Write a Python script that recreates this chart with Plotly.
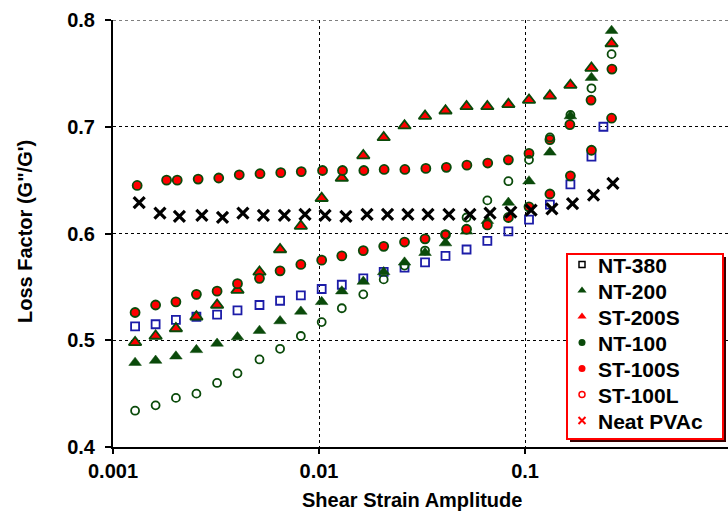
import plotly.graph_objects as go

# ---------------- data ----------------
series_names = ["NT-380", "NT-200", "ST-200S", "NT-100", "ST-100S", "ST-100L", "Neat PVAc"]

strain_common = [0.00128, 0.00161, 0.00202, 0.00254, 0.0032, 0.00402, 0.00514, 0.00647,
                 0.00816, 0.0103, 0.0129, 0.0164, 0.0206, 0.0260, 0.0327, 0.0411,
                 0.0520, 0.0656, 0.0830, 0.1045, 0.132, 0.166, 0.210, 0.263]
strain_nt380 = [0.00128, 0.00161, 0.00202, 0.00254, 0.0032, 0.00402, 0.00514, 0.00647,
                0.00816, 0.0103, 0.0129, 0.0164, 0.0206, 0.0260, 0.0327, 0.0411,
                0.0520, 0.0656, 0.0830, 0.1045, 0.132, 0.166, 0.210, 0.240]
strain_nt100 = [0.00131, 0.00182, 0.00205, 0.00259, 0.00326, 0.0041, 0.00517, 0.00652,
                0.0082, 0.0104, 0.0130, 0.0165, 0.0207, 0.0261, 0.0330, 0.0415,
                0.0522, 0.0659, 0.0830, 0.1045, 0.132, 0.165, 0.209, 0.264]
strain_neat = [0.00134, 0.00169, 0.0021, 0.0027, 0.0034, 0.00427, 0.00537, 0.00679,
               0.00855, 0.0107, 0.0135, 0.0171, 0.0215, 0.0270, 0.0338, 0.0427,
               0.0540, 0.0676, 0.0853, 0.107, 0.135, 0.170, 0.215, 0.267]

loss_nt380 = [0.513, 0.515, 0.519, 0.522, 0.524, 0.528, 0.533, 0.537, 0.542, 0.548, 0.552, 0.558,
              0.564, 0.568, 0.573, 0.579, 0.585, 0.593, 0.602, 0.613, 0.627, 0.646, 0.672, 0.700]
loss_nt200 = [0.479, 0.481, 0.485, 0.491, 0.497, 0.503, 0.509, 0.518, 0.527, 0.536, 0.546, 0.555,
              0.564, 0.573, 0.582, 0.591, 0.602, 0.612, 0.629, 0.649, 0.676, 0.710, 0.746, 0.790]
loss_st200s = [0.498, 0.504, 0.511, 0.522, 0.533, 0.547, 0.564, 0.585, 0.607, 0.633, 0.652, 0.673,
               0.690, 0.701, 0.710, 0.715, 0.719, 0.719, 0.721, 0.725, 0.729, 0.739, 0.755, 0.778]
loss_nt100 = [0.645, 0.650, 0.650, 0.651, 0.652, 0.655, 0.656, 0.657, 0.658, 0.659, 0.659, 0.659,
              0.660, 0.660, 0.661, 0.662, 0.664, 0.666, 0.669, 0.675, 0.688, 0.702, 0.725, 0.754]
loss_st100s = [0.526, 0.533, 0.536, 0.543, 0.546, 0.553, 0.558, 0.565, 0.571, 0.575, 0.579, 0.584,
               0.588, 0.592, 0.595, 0.599, 0.604, 0.608, 0.615, 0.625, 0.637, 0.654, 0.678, 0.708]
loss_st100l = [0.434, 0.439, 0.446, 0.450, 0.460, 0.469, 0.482, 0.492, 0.504, 0.517, 0.530, 0.543,
               0.557, 0.570, 0.584, 0.599, 0.615, 0.631, 0.649, 0.669, 0.690, 0.711, 0.736, 0.768]
loss_neat = [0.629, 0.619, 0.616, 0.617, 0.615, 0.619, 0.617, 0.617, 0.618, 0.617, 0.616, 0.618,
             0.618, 0.618, 0.618, 0.618, 0.618, 0.619, 0.620, 0.622, 0.623, 0.628, 0.636, 0.647]

x_tick_vals = [0.001, 0.01, 0.1]
x_tick_text = ["0.001", "0.01", "0.1"]
y_tick_vals = [0.4, 0.5, 0.6, 0.7, 0.8]
y_tick_text = ["0.4", "0.5", "0.6", "0.7", "0.8"]

# ---------------- styles ----------------
GREEN = "#0a4a0a"
RED = "#ff0000"
BLUE = "#1c1ca8"
FONT = "Liberation Sans, Arial, sans-serif"
BOLD20 = dict(family=FONT, size=20, color="black", weight="bold")
BOLD21 = dict(family=FONT, size=21, color="black", weight="bold")

fig = go.Figure()

plot_specs = [
    (strain_nt380, loss_nt380, dict(symbol="square-open", size=8, color=BLUE, line=dict(width=1.8, color=BLUE))),
    (strain_common, loss_nt200, dict(symbol="triangle-up", size=11, color=GREEN, line=dict(width=0.5, color=GREEN))),
    (strain_common, loss_st200s, dict(symbol="triangle-up", size=11, color=RED, line=dict(width=1.8, color=GREEN))),
    (strain_nt100, loss_nt100, dict(symbol="circle", size=9, color=RED, line=dict(width=1.8, color=GREEN))),
    (strain_common, loss_st100s, dict(symbol="circle", size=9, color=RED, line=dict(width=1.8, color=GREEN))),
    (strain_common, loss_st100l, dict(symbol="circle-open", size=8, color=GREEN, line=dict(width=1.8, color=GREEN))),
    (strain_neat, loss_neat, dict(symbol="x-thin-open", size=11, color="black", line=dict(width=3.2, color="black"))),
]
for name, (xs, ys, mk) in zip(series_names, plot_specs):
    fig.add_trace(go.Scatter(x=xs, y=ys, mode="markers", name=name, marker=mk,
                             showlegend=False, cliponaxis=False))

# legend symbols (legend-only entries; their labels are drawn as annotations below)
legend_markers = [
    dict(symbol="square-open", size=6, color="black", line=dict(width=1.5, color="black")),
    dict(symbol="triangle-up", size=8, color=GREEN, line=dict(width=0, color=GREEN)),
    dict(symbol="triangle-up", size=8, color=RED, line=dict(width=0, color=RED)),
    dict(symbol="circle", size=7, color=GREEN, line=dict(width=0, color=GREEN)),
    dict(symbol="circle", size=7, color=RED, line=dict(width=0, color=RED)),
    dict(symbol="circle-open", size=6, color=RED, line=dict(width=1.5, color=RED)),
    dict(symbol="x-thin-open", size=7, color=RED, line=dict(width=2, color=RED)),
]
for name, mk in zip(series_names, legend_markers):
    fig.add_trace(go.Scatter(x=[None], y=[None], mode="markers", name="", legendgroup=name,
                             marker=mk, showlegend=True))

# plot area in pixels: left 113, right 728, top 20, bottom 447
L, R, T, B = 113, 728, 20, 447
W, H = R - L, B - T

def px_x(p):
    return (p - L) / W

def px_y(p):
    return (B - p) / H

# legend box (manual border + shadow)
bx0, bx1, by0, by1 = 567, 723, 254, 439
fig.add_shape(type="rect", xref="paper", yref="paper",
              x0=px_x(bx0 + 3), x1=px_x(bx1 + 3), y0=px_y(by1 + 3), y1=px_y(by0 + 3),
              fillcolor="#3a0000", line=dict(width=0), layer="above")
fig.add_shape(type="rect", xref="paper", yref="paper",
              x0=px_x(bx0), x1=px_x(bx1), y0=px_y(by1), y1=px_y(by0),
              fillcolor="white", line=dict(width=2, color=RED), layer="above")
# dashed top gridline at 0.8
fig.add_shape(type="line", xref="paper", yref="y", x0=0, x1=1, y0=0.8, y1=0.8,
              line=dict(width=1, color="black", dash="3px,3px"), layer="below")

annotations = [
    dict(text="Shear Strain Amplitude", xref="paper", yref="paper",
         x=px_x(411.5), y=px_y(500), xanchor="center", yanchor="middle",
         showarrow=False, font=BOLD20),
    dict(text="Loss Factor (G\"/G')", xref="paper", yref="paper",
         x=px_x(24.5), y=px_y(231.5), xanchor="center", yanchor="middle",
         textangle=-90, showarrow=False, font=BOLD20),
    dict(text="1", xref="paper", yref="paper",
         x=px_x(733), y=px_y(472), xanchor="center", yanchor="middle",
         showarrow=False, font=BOLD20),
]
legend_row0, legend_row_step = 265, 26
for i, name in enumerate(series_names):
    annotations.append(dict(text=name, xref="paper", yref="paper",
                            x=px_x(596), y=px_y(legend_row0 + legend_row_step * i),
                            xanchor="left", yanchor="middle", showarrow=False, font=BOLD21))

fig.update_layout(
    width=728, height=517,
    margin=dict(l=L, r=0, t=T, b=517 - B, autoexpand=False),
    paper_bgcolor="white", plot_bgcolor="white",
    font=BOLD20,
    showlegend=True,
    legend=dict(x=px_x(562), y=px_y(246.5), xanchor="left", yanchor="top",
                bgcolor="rgba(0,0,0,0)", borderwidth=0,
                font=dict(family=FONT, size=17.7, color="black", weight="bold"),
                tracegroupgap=0, itemwidth=30),
    xaxis=dict(type="log", range=[-3, -0.015],
               tickvals=x_tick_vals, ticktext=x_tick_text,
               tickfont=BOLD20, automargin=False,
               showline=True, linecolor="black", linewidth=2,
               ticks="outside", ticklen=5, tickwidth=1.5, tickcolor="black",
               showgrid=True, gridcolor="black", gridwidth=1, griddash="3px,3px",
               zeroline=False),
    yaxis=dict(range=[0.4, 0.8], tickvals=y_tick_vals, ticktext=y_tick_text,
               tickfont=BOLD20, automargin=False,
               showline=True, linecolor="black", linewidth=2,
               ticks="outside", ticklen=6, tickwidth=1.5, tickcolor="black",
               ticklabelstandoff=6,
               showgrid=True, gridcolor="black", gridwidth=1, griddash="3px,3px",
               zeroline=False),
    annotations=annotations,
)

fig.write_html("out.html", config={"displayModeBar": False},
               post_script="document.body.style.margin='0';document.body.style.overflow='hidden';")
